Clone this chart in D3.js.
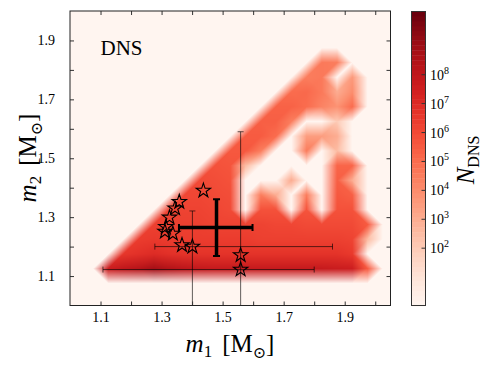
<!DOCTYPE html>
<html><head><meta charset="utf-8">
<script src="https://cdn.jsdelivr.net/npm/d3@7"></script>
<style>body{margin:0;background:#fff} svg{display:block}</style>
</head><body>
<svg id="c" width="490" height="370"></svg>
<script>
// ---------------- data ----------------
// histogram bin centres (m1, m2) in solar masses
const m1Nodes = [1.025,1.075,1.125,1.175,1.225,1.275,1.325,1.375,1.425,1.475,1.525,1.575,1.625,1.675,1.725,1.775,1.825,1.875,1.925,1.975,2.025];
const m2Nodes = [1.025,1.075,1.125,1.175,1.225,1.275,1.325,1.375,1.425,1.475,1.525,1.575,1.625,1.675,1.725,1.775,1.825,1.875,1.925,1.975];
// log10(N_DNS) per bin, rows = m2Nodes (bottom to top), columns = m1Nodes ; 0 = empty
const logN = [
 [0,0,0,0,0,0,0,0,0,0,0,0,0,0,0,0,0,0,0,0,0],
 [0,0,0,0,0,0,0,0,0,0,0,0,0,0,0,0,0,0,0,0,0],
 [0,0,7.6,8.0,8.3,8.8,8.4,8.1,7.9,7.8,7.8,7.8,7.8,7.8,7.8,7.8,7.8,7.7,7.6,5.5,0],
 [0,0,0,6.6,6.8,7.0,6.8,6.7,6.7,6.7,6.7,6.7,6.7,6.7,6.7,6.7,6.7,6.7,6.5,0,0],
 [0,0,0,0,6.4,6.5,6.4,6.4,6.4,6.4,6.4,6.4,6.3,6.3,6.3,6.3,6.3,6.3,6.2,2.5,0],
 [0,0,0,0,0,6.3,6.3,6.3,6.3,6.2,6.2,6.2,6.2,6.1,6.1,6.0,6.0,6.0,6.0,5.5,0],
 [0,0,0,0,0,0,6.2,6.2,6.2,6.1,6.0,0,5.8,5.8,0,5.7,0,5.8,5.8,0,0],
 [0,0,0,0,0,0,0,6.1,6.1,6.0,5.9,0,4.5,3.0,0,4.5,0,5.6,5.4,0,0],
 [0,0,0,0,0,0,0,0,6.0,5.9,5.8,0,0,0,3.0,0,0,5.4,3.0,0,0],
 [0,0,0,0,0,0,0,0,0,5.8,5.7,2.5,0,0,0,0,0,5.2,5.2,0,0],
 [0,0,0,0,0,0,0,0,0,0,5.6,5.6,4.5,0,0,4.5,0,2.5,0,0,0],
 [0,0,0,0,0,0,0,0,0,0,0,5.5,5.5,5.0,0,3.5,3.5,3.0,0,0,0],
 [0,0,0,0,0,0,0,0,0,0,0,0,5.4,5.4,4.5,0,0,2.0,0,0,0],
 [0,0,0,0,0,0,0,0,0,0,0,0,0,5.3,5.3,5.0,4.3,3.8,5.0,0,0],
 [0,0,0,0,0,0,0,0,0,0,0,0,0,0,5.0,5.1,4.6,3.0,4.0,0,0],
 [0,0,0,0,0,0,0,0,0,0,0,0,0,0,0,4.5,4.6,0,3.6,0,0],
 [0,0,0,0,0,0,0,0,0,0,0,0,0,0,0,0,4.6,4.5,0,0,0],
 [0,0,0,0,0,0,0,0,0,0,0,0,0,0,0,0,0,0,0,0,0],
 [0,0,0,0,0,0,0,0,0,0,0,0,0,0,0,0,0,0,0,0,0],
 [0,0,0,0,0,0,0,0,0,0,0,0,0,0,0,0,0,0,0,0,0]
];
// observed double neutron stars (m1, m2)
const starM1 = [1.437,1.358,1.344,1.326,1.314,1.311,1.337,1.367,1.401,1.559,1.559];
const starM2 = [1.390,1.352,1.330,1.299,1.267,1.251,1.244,1.205,1.200,1.171,1.122];
// thin error bars: centre, x-range, y-range
const errM1 = [1.559, 1.401];
const errM2 = [1.122, 1.200];
const errM1Lo = [1.108, 1.278], errM1Hi = [1.800, 1.860];
const errM2Lo = [0.990, 0.900], errM2Hi = [1.590, 1.321];
// GW170817 (thick cross)
const gwM1 = [1.48], gwM1Lo = [1.357], gwM1Hi = [1.598];
const gwM2 = [1.265], gwM2Lo = [1.168], gwM2Hi = [1.361];
const xTicks = [1.1,1.2,1.3,1.4,1.5,1.6,1.7,1.8,1.9,2.0];
const xLabels = ["1.1","1.3","1.5","1.7","1.9"];
const yTicks = [1.1,1.2,1.3,1.4,1.5,1.6,1.7,1.8,1.9];
const yLabels = ["1.1","1.3","1.5","1.7","1.9"];
const cbTicks = [1e2,1e3,1e4,1e5,1e6,1e7,1e8];
const cbTickExp = ["2","3","4","5","6","7","8"];
const cbMin = 1, cbMax = 1.6e10;

// ---------------- layout ----------------
const FONT = "'Liberation Serif','DejaVu Serif',serif";
const L = 70, R = 390.5, T = 11, B = 305.5;
const svg = d3.select("#c");
const x = d3.scaleLinear().domain([1.0, 2.05]).range([L, R]);
const y = d3.scaleLinear().domain([1.0, 2.0]).range([B, T]);
const lmax = Math.log10(cbMax);
const cmap = v => d3.rgb(d3.interpolateReds(Math.max(0, Math.min(1, v / lmax))));

// background
svg.append("rect").attr("x", L).attr("y", T).attr("width", R - L).attr("height", B - T)
  .attr("fill", d3.interpolateReds(0));

// heat map, gouraud shading on a data-dependent triangulation
const nodeRGB = logN.map(row => row.map(v => { const c = cmap(v); return [c.r, c.g, c.b]; }));
const bgRGB = (() => { const c = cmap(0); return [c.r, c.g, c.b]; })();
const nx = m1Nodes.length, ny = m2Nodes.length;
const dX = m1Nodes[1] - m1Nodes[0], dY = m2Nodes[1] - m2Nodes[0];
const out = (i, j) => i < 0 || j < 0 || i >= nx || j >= ny;
const node = (i, j) => out(i, j) ? bgRGB : nodeRGB[j][i];
const val = (i, j) => out(i, j) ? 0 : logN[j][i];
const W = Math.ceil(R - L), H = Math.ceil(B - T);
const cv = document.createElement("canvas"); cv.width = W; cv.height = H;
const ctx = cv.getContext("2d");
const img = ctx.createImageData(W, H);
for (let py = 0; py < H; py++) {
  const my = y.invert(T + py + 0.5);
  const fj = (my - m2Nodes[0]) / dY, j = Math.floor(fj), w = fj - j;
  for (let px = 0; px < W; px++) {
    const mx = x.invert(L + px + 0.5);
    const fi = (mx - m1Nodes[0]) / dX, i = Math.floor(fi), u = fi - i;
    const c00 = node(i, j), c10 = node(i + 1, j), c01 = node(i, j + 1), c11 = node(i + 1, j + 1);
    const d1 = Math.abs(val(i, j) - val(i + 1, j + 1)), d2 = Math.abs(val(i, j + 1) - val(i + 1, j));
    const k = (py * W + px) * 4;
    for (let ch = 0; ch < 3; ch++) {
      const a = c00[ch], b = c10[ch], c = c01[ch], d = c11[ch];
      let v;
      if (Math.abs(d1 - d2) < 0.5) {
        const cc = (a + b + c + d) / 4;
        if (w <= u && w <= 1 - u) v = a * (1 - u - w) + b * (u - w) + cc * 2 * w;
        else if (u >= w && u >= 1 - w) v = b * (u - w) + d * (u + w - 1) + cc * 2 * (1 - u);
        else if (w >= u && w >= 1 - u) v = c * (w - u) + d * (u + w - 1) + cc * 2 * (1 - w);
        else v = a * (1 - u - w) + c * (w - u) + cc * 2 * u;
      } else if (d1 < d2) {
        v = (w <= u) ? a * (1 - u) + b * (u - w) + d * w : a * (1 - w) + c * (w - u) + d * u;
      } else {
        v = (u + w <= 1) ? a * (1 - u - w) + b * u + c * w : d * (u + w - 1) + b * (1 - w) + c * (1 - u);
      }
      img.data[k + ch] = v;
    }
    img.data[k + 3] = 255;
  }
}
ctx.putImageData(img, 0, 0);
svg.append("image").attr("x", L).attr("y", T).attr("width", W).attr("height", H)
  .attr("preserveAspectRatio", "none").attr("href", cv.toDataURL());

// clip
svg.append("clipPath").attr("id", "clip").append("rect")
  .attr("x", L).attr("y", T).attr("width", R - L).attr("height", B - T);
const gp = svg.append("g").attr("clip-path", "url(#clip)");

// thin error bars
errM1.forEach((m, k) => {
  const g = gp.append("g").attr("stroke", "#000").attr("stroke-opacity", 0.62).attr("stroke-width", 1);
  g.append("line").attr("x1", x(errM1Lo[k])).attr("x2", x(errM1Hi[k])).attr("y1", y(errM2[k])).attr("y2", y(errM2[k]));
  g.append("line").attr("x1", x(m)).attr("x2", x(m)).attr("y1", y(errM2Lo[k])).attr("y2", y(errM2Hi[k]));
  [errM1Lo[k], errM1Hi[k]].forEach(v => g.append("line").attr("x1", x(v)).attr("x2", x(v))
    .attr("y1", y(errM2[k]) - 3).attr("y2", y(errM2[k]) + 3));
  [errM2Lo[k], errM2Hi[k]].forEach(v => g.append("line").attr("y1", y(v)).attr("y2", y(v))
    .attr("x1", x(m) - 3).attr("x2", x(m) + 3));
});
// thick cross
gwM1.forEach((m, k) => {
  const g = gp.append("g").attr("stroke", "#000");
  g.append("line").attr("stroke-width", 3.5).attr("x1", x(gwM1Lo[k])).attr("x2", x(gwM1Hi[k])).attr("y1", y(gwM2[k])).attr("y2", y(gwM2[k]));
  g.append("line").attr("stroke-width", 3.5).attr("x1", x(m)).attr("x2", x(m)).attr("y1", y(gwM2Lo[k])).attr("y2", y(gwM2Hi[k]));
  [gwM1Lo[k], gwM1Hi[k]].forEach(v => g.append("line").attr("stroke-width", 2).attr("x1", x(v)).attr("x2", x(v))
    .attr("y1", y(gwM2[k]) - 3.5).attr("y2", y(gwM2[k]) + 3.5));
  [gwM2Lo[k], gwM2Hi[k]].forEach(v => g.append("line").attr("stroke-width", 2).attr("y1", y(v)).attr("y2", y(v))
    .attr("x1", x(m) - 3.5).attr("x2", x(m) + 3.5));
});
// stars
const star = d3.symbol().type(d3.symbolStar).size(64);
gp.selectAll("path.star").data(starM1).join("path").attr("class", "star")
  .attr("d", star).attr("transform", (d, k) => `translate(${x(d)},${y(starM2[k])})`)
  .attr("fill", "none").attr("stroke", "#000").attr("stroke-width", 1.1).attr("stroke-linejoin", "miter");

// axes (ticks inward on all sides)
const fmt = d => { const s = d3.format(".1f")(d); return xLabels.includes(s) ? s : ""; };
const fmtY = d => { const s = d3.format(".1f")(d); return yLabels.includes(s) ? s : ""; };
function styleAxis(g) {
  g.select(".domain").remove();
  g.selectAll(".tick line").attr("stroke", "#333");
  g.selectAll("text").attr("font-family", FONT).attr("font-size", 14).attr("fill", "#000");
}
svg.append("g").attr("transform", `translate(0,${B})`)
  .call(d3.axisBottom(x).tickValues(xTicks).tickSize(-4).tickPadding(7).tickFormat(fmt)).call(styleAxis);
svg.append("g").attr("transform", `translate(0,${T})`)
  .call(d3.axisTop(x).tickValues(xTicks).tickSize(-4).tickFormat("")).call(styleAxis);
svg.append("g").attr("transform", `translate(${L},0)`)
  .call(d3.axisLeft(y).tickValues(yTicks).tickSize(-4).tickPadding(15).tickFormat(fmtY)).call(styleAxis);
svg.append("g").attr("transform", `translate(${R},0)`)
  .call(d3.axisRight(y).tickValues(yTicks).tickSize(-4).tickFormat("")).call(styleAxis);
svg.append("rect").attr("x", L).attr("y", T).attr("width", R - L).attr("height", B - T)
  .attr("fill", "none").attr("stroke", "#222").attr("stroke-width", 1);

// DNS label
svg.append("text").attr("x", 100.5).attr("y", 55).attr("font-family", FONT).attr("font-size", 21).text("DNS");

// axis labels
const xl = svg.append("text").attr("x", 230).attr("y", 352).attr("text-anchor", "middle")
  .attr("font-family", FONT).attr("font-size", 25);
xl.append("tspan").attr("font-style", "italic").text("m");
xl.append("tspan").attr("font-size", 17).attr("dy", 5).text("1");
xl.append("tspan").attr("dy", -5).attr("dx", 10).text("[M");
xl.append("tspan").attr("font-size", 16).attr("dy", 6).text("⊙");
xl.append("tspan").attr("dy", -6).text("]");

const yl = svg.append("text").attr("transform", "translate(36,158) rotate(-90)").attr("text-anchor", "middle")
  .attr("font-family", FONT).attr("font-size", 25);
yl.append("tspan").attr("font-style", "italic").text("m");
yl.append("tspan").attr("font-size", 17).attr("dy", 5).text("2");
yl.append("tspan").attr("dy", -5).attr("dx", 10).text("[M");
yl.append("tspan").attr("font-size", 16).attr("dy", 6).text("⊙");
yl.append("tspan").attr("dy", -6).text("]");

// colorbar
const cbL = 411.5, cbW = 14;
const cbY = d3.scaleLog().domain([cbMin, cbMax]).range([306, 11]);
const nb = 60;
const bands = d3.range(nb);
svg.append("g").selectAll("rect").data(bands).join("rect")
  .attr("x", cbL).attr("width", cbW)
  .attr("y", k => cbY(Math.pow(10, (k + 1) * lmax / nb)))
  .attr("height", k => cbY(Math.pow(10, k * lmax / nb)) - cbY(Math.pow(10, (k + 1) * lmax / nb)) + 0.4)
  .attr("fill", k => d3.interpolateReds((k + 0.5) / nb));
svg.append("rect").attr("x", cbL).attr("y", 11.5).attr("width", cbW).attr("height", 294)
  .attr("fill", "none").attr("stroke", "#333").attr("stroke-width", 1);
const cbg = svg.append("g");
cbTicks.forEach((t, k) => {
  const ty = cbY(t);
  cbg.append("line").attr("x1", cbL + cbW - 4).attr("x2", cbL + cbW).attr("y1", ty).attr("y2", ty)
    .attr("stroke", "#333").attr("stroke-width", 1);
  const tx = cbg.append("text").attr("x", 430).attr("y", ty + 5).attr("font-family", FONT).attr("font-size", 14);
  tx.append("tspan").text("10");
  tx.append("tspan").attr("font-size", 10).attr("dy", -6).text(cbTickExp[k]);
});
const cl = svg.append("text").attr("transform", "translate(474,160) rotate(-90)").attr("text-anchor", "middle")
  .attr("font-family", FONT).attr("font-size", 25);
cl.append("tspan").attr("font-style", "italic").text("N");
cl.append("tspan").attr("font-size", 16).attr("dy", 5).text("DNS");
</script>
</body></html>
